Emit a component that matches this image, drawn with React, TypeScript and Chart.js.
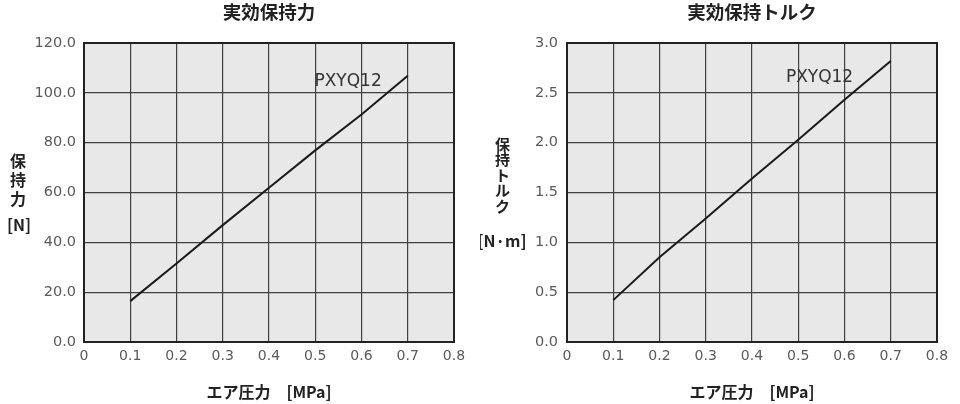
import { useEffect, useRef } from 'react';
import { Chart, registerables } from 'chart.js';

Chart.register(...registerables);

// ---- data ----
const pressure = [0.1, 0.2, 0.3, 0.4, 0.5, 0.6, 0.7];
const holdingForce = [16.4, 31.5, 46.9, 61.9, 76.9, 91.3, 106.9];
const holdingTorque = [0.42, 0.85, 1.24, 1.64, 2.03, 2.43, 2.82];
const xTickLabels = ['0', '0.1', '0.2', '0.3', '0.4', '0.5', '0.6', '0.7', '0.8'];
const forceTickLabels = ['0.0', '20.0', '40.0', '60.0', '80.0', '100.0', '120.0'];
const torqueTickLabels = ['0.0', '0.5', '1.0', '1.5', '2.0', '2.5', '3.0'];
const seriesName = 'PXYQ12';
const forceTitle = '実効保持力';
const torqueTitle = '実効保持トルク';
const xAxisTitle = 'エア圧力　[MPa]';
const forceAxisChars = ['保', '持', '力'];
const forceUnit = '[N]';
const torqueAxisChars = ['保', '持', 'ト', 'ル', 'ク'];
const torqueUnit = '[N·m]';

const JP = '"Noto Sans CJK JP", "Noto Sans", sans-serif';
const NUM = '"DejaVu Sans", sans-serif';

const textPlugin = {
  id: 'chartText',
  beforeDraw(chart: any) {
    const { ctx, chartArea } = chart;
    const { left, top, right, bottom } = chartArea;
    ctx.save();
    ctx.fillStyle = '#e8e8e8';
    ctx.fillRect(left, top, right - left, bottom - top);
    ctx.restore();
  },
  afterDraw(chart: any, _args: any, opts: any) {
    const { ctx, chartArea } = chart;
    const { left, top, right, bottom } = chartArea;
    ctx.save();
    ctx.strokeStyle = '#222';
    ctx.lineWidth = 2;
    ctx.strokeRect(left, top, right - left, bottom - top);

    ctx.fillStyle = '#222';
    ctx.textAlign = 'center';
    ctx.textBaseline = 'middle';
    ctx.font = `bold 18.5px ${JP}`;
    ctx.fillText(opts.title, (left + right) / 2, 12);

    ctx.font = opts.yTitleFont;
    const chars: string[] = opts.yTitleChars;
    chars.forEach((c, i) => ctx.fillText(c, opts.yTitleX, opts.yTitleY0 + i * opts.yTitleStep));
    ctx.font = `bold 16px ${JP}`;
    ctx.fillText(opts.yUnit, opts.yUnitX, opts.yUnitY);

    const xs = chart.scales.x;
    const ys = chart.scales.y;
    ctx.font = `17px ${NUM}`;
    ctx.fillStyle = '#333';
    ctx.fillText(opts.seriesLabel, xs.getPixelForValue(opts.labelX), ys.getPixelForValue(opts.labelY));
    ctx.restore();
  },
};

function makeConfig(spec: any): any {
  return {
    type: 'line',
    data: {
      datasets: [
        {
          label: seriesName,
          data: pressure.map((p, i) => ({ x: p, y: spec.values[i] })),
          borderColor: '#1a1a1a',
          borderWidth: 2,
          pointRadius: 0,
          tension: 0,
          fill: false,
        },
      ],
    },
    options: {
      responsive: false,
      animation: false,
      layout: { padding: { top: 43, left: 0, right: spec.padRight, bottom: 2 } },
      plugins: {
        legend: { display: false },
        tooltip: { enabled: false },
        chartText: {
          title: spec.title,
          yTitleChars: spec.yTitleChars,
          yTitleFont: spec.yTitleFont,
          yTitleX: spec.yTitleX,
          yTitleY0: spec.yTitleY0,
          yTitleStep: spec.yTitleStep,
          yUnit: spec.yUnit,
          yUnitX: spec.yUnitX,
          yUnitY: spec.yUnitY,
          seriesLabel: seriesName,
          labelX: spec.labelX,
          labelY: spec.labelY,
        },
      },
      scales: {
        x: {
          type: 'linear',
          min: 0,
          max: 0.8,
          afterFit: (s: any) => {
            s.height = 60;
          },
          ticks: {
            stepSize: 0.1,
            padding: 6,
            color: '#5a5a5a',
            font: { family: NUM, size: 14 },
            callback: (_v: any, i: number) => xTickLabels[i],
            maxRotation: 0,
          },
          grid: { color: '#404040', lineWidth: 1.2, drawTicks: false },
          border: { display: false },
          title: {
            display: true,
            text: xAxisTitle,
            color: '#222',
            font: { family: JP, size: 16, weight: 'bold' },
            padding: { top: 0, bottom: 0 },
          },
        },
        y: {
          type: 'linear',
          min: 0,
          max: spec.yMax,
          afterFit: (s: any) => {
            s.width = spec.yAxisWidth;
          },
          ticks: {
            stepSize: spec.yStep,
            padding: spec.yPad,
            color: '#5a5a5a',
            font: { family: NUM, size: 14.5 },
            callback: (_v: any, i: number) => spec.yTicks[i],
          },
          grid: { color: '#404040', lineWidth: 1.2, drawTicks: false },
          border: { display: false },
        },
      },
    },
    plugins: [textPlugin],
  };
}

function ChartPanel({ spec }: { spec: any }) {
  const ref = useRef<HTMLCanvasElement>(null);
  useEffect(() => {
    const chart = new Chart(ref.current as HTMLCanvasElement, makeConfig(spec));
    return () => chart.destroy();
  }, []);
  return <canvas ref={ref} width={480} height={404} style={{ display: 'block', width: 480, height: 404 }} />;
}

const forceSpec = {
  values: holdingForce,
  yMax: 120,
  yStep: 20,
  yTicks: forceTickLabels,
  yAxisWidth: 84,
  yPad: 8,
  padRight: 26,
  title: forceTitle,
  yTitleChars: forceAxisChars,
  yTitleFont: `bold 16px ${JP}`,
  yTitleX: 18,
  yTitleY0: 161,
  yTitleStep: 19,
  yUnit: forceUnit,
  yUnitX: 19,
  yUnitY: 225,
  labelX: 0.571,
  labelY: 104.7,
};

const torqueSpec = {
  values: holdingTorque,
  yMax: 3,
  yStep: 0.5,
  yTicks: torqueTickLabels,
  yAxisWidth: 87,
  yPad: 9,
  padRight: 23,
  title: torqueTitle,
  yTitleChars: torqueAxisChars,
  yTitleFont: `bold 15px ${JP}`,
  yTitleX: 22.5,
  yTitleY0: 144,
  yTitleStep: 15.5,
  yUnit: torqueUnit,
  yUnitX: 22,
  yUnitY: 241,
  labelX: 0.546,
  labelY: 2.65,
};

export default function App() {
  return (
    <div
      style={{
        position: 'fixed',
        left: 0,
        top: 0,
        width: 960,
        height: 404,
        display: 'flex',
        background: '#fff',
      }}
    >
      <ChartPanel spec={forceSpec} />
      <ChartPanel spec={torqueSpec} />
    </div>
  );
}
